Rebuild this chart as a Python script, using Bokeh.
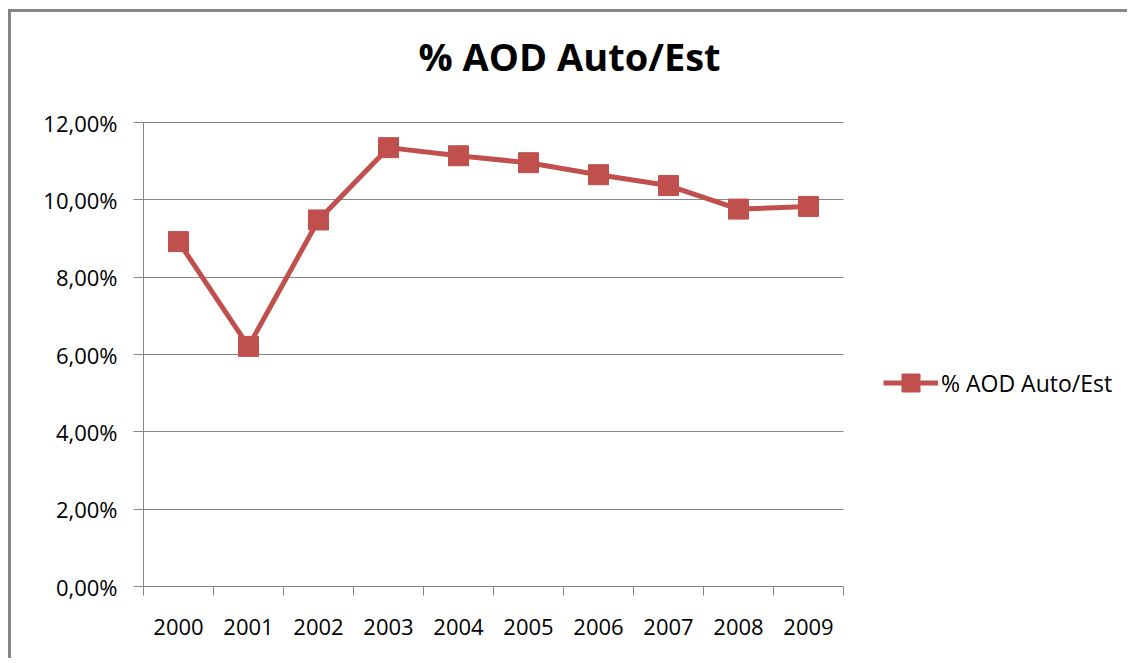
from bokeh.plotting import figure
from bokeh.models import FixedTicker, Legend, LegendItem, ColumnDataSource, Range1d, Label
from bokeh.embed import file_html
from bokeh.resources import INLINE

# ---- data ----
years = ["2000", "2001", "2002", "2003", "2004", "2005", "2006", "2007", "2008", "2009"]
values = [8.92, 6.21, 9.48, 11.35, 11.14, 10.96, 10.65, 10.37, 9.76, 9.83]
y_ticks = [0, 2, 4, 6, 8, 10, 12]
y_tick_labels = ["0,00%", "2,00%", "4,00%", "6,00%", "8,00%", "10,00%", "12,00%"]
series_name = "% AOD Auto/Est"
title_text = "% AOD Auto/Est"

RED = "#C0504D"
GRAY = "#868686"
FONT = "Open Sans"

n = len(years)
y_max = y_ticks[-1]
xpos = [i + 0.5 for i in range(n)]
src = ColumnDataSource(dict(x=xpos, y=values, year=years))

# The frame extends to the right and top edges so that the legend and title
# can sit inside it; axes and grid are bounded to the data span.
p = figure(width=1119, height=649, output_backend="svg", toolbar_location=None,
           x_range=Range1d(0, 14.1), y_range=Range1d(0, 14.845),
           min_border_left=132, min_border_right=0, min_border_top=0, min_border_bottom=75)
p.styles = {"border-left": "3px solid " + GRAY, "border-top": "3px solid " + GRAY,
            "margin-left": "8px", "margin-top": "9px"}
p.outline_line_color = None
p.background_fill_color = "white"
p.border_fill_color = "white"

# grid (horizontal lines limited to the category span)
p.xgrid.visible = False
if "cross_bounds" in p.ygrid.properties():
    p.ygrid.ticker = FixedTicker(ticks=y_ticks)
    p.ygrid.grid_line_color = GRAY
    p.ygrid.grid_line_width = 1
    p.ygrid.cross_bounds = (0, n)
else:
    p.ygrid.visible = False
    p.segment(x0=[0] * len(y_ticks), x1=[n] * len(y_ticks), y0=y_ticks, y1=y_ticks,
              line_color=GRAY, line_width=1, level="underlay")

# x axis
xa = p.xaxis[0]
xa.bounds = (0, n)
xa.ticker = FixedTicker(ticks=xpos, minor_ticks=list(range(n + 1)))
xa.major_label_overrides = {x: y for x, y in zip(xpos, years)}
xa.major_tick_out = 0
xa.major_tick_in = 0
xa.minor_tick_out = 9
xa.minor_tick_in = 0
xa.minor_tick_line_color = GRAY
xa.axis_line_color = GRAY
xa.major_label_standoff = 23
xa.major_label_text_font = FONT
xa.major_label_text_font_size = "22px"
xa.major_label_text_color = "black"

# y axis
ya = p.yaxis[0]
ya.bounds = (0, y_max)
ya.ticker = FixedTicker(ticks=y_ticks)
ya.major_label_overrides = {t: l for t, l in zip(y_ticks, y_tick_labels)}
ya.major_tick_out = 10
ya.major_tick_in = 0
ya.minor_tick_line_color = None
ya.major_tick_line_color = GRAY
ya.axis_line_color = GRAY
ya.major_label_standoff = 16
ya.major_label_text_font = FONT
ya.major_label_text_font_size = "22px"
ya.major_label_text_color = "black"

# series
l = p.line("x", "y", source=src, line_color=RED, line_width=5)
s = p.scatter("x", "y", source=src, marker="square", size=20, fill_color=RED, line_color=RED)

legend = Legend(items=[LegendItem(label=series_name, renderers=[l, s])],
                location=(740, 181), glyph_width=55, glyph_height=45,
                label_standoff=3, padding=0, margin=0, spacing=0,
                border_line_color=None, background_fill_alpha=0,
                label_text_font=FONT, label_text_font_size="23px",
                label_text_color="black")
p.add_layout(legend)

title = Label(x=426, y=531, x_units="screen", y_units="screen", text=title_text,
              text_align="center", text_baseline="middle",
              text_font=FONT, text_font_style="bold", text_font_size="38px",
              text_color="black")
p.add_layout(title)

open("out.html", "w").write(file_html(p, INLINE))
